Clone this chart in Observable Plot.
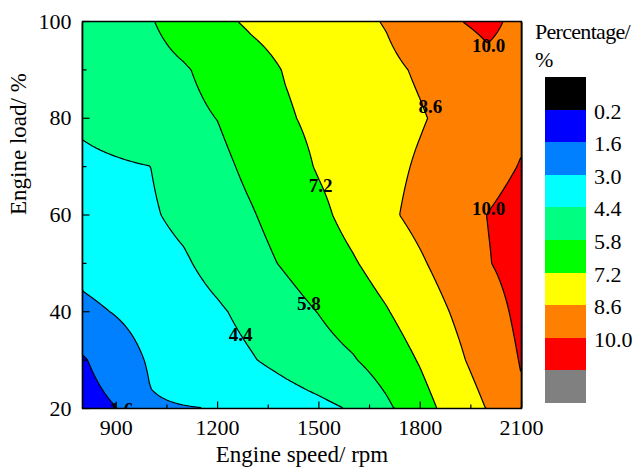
<!DOCTYPE html>
<html>
<head>
<meta charset="utf-8">
<script src="https://cdn.jsdelivr.net/npm/d3@7"></script>
<script src="https://cdn.jsdelivr.net/npm/@observablehq/plot@0.6"></script>
<style>
  html, body { margin: 0; padding: 0; background: white; overflow: hidden; }
  #wrap { position: relative; width: 634px; height: 472px; font-family: "Liberation Serif", "Times New Roman", serif; }
  #legend { position: absolute; left: 0; top: 0; width: 634px; height: 472px; pointer-events: none; }
  .lg-title { position: absolute; font-size: 22px; line-height: 22px; color: #000; white-space: nowrap; letter-spacing: -0.7px; }
  .lg-box { position: absolute; left: 545px; width: 41px; }
  .lg-lab { position: absolute; left: 594px; font-size: 22px; line-height: 22px; color: #000; }
</style>
</head>
<body>
<div id="wrap"><div id="legend"></div></div>
<script>
// Engine speed (rpm) grid columns and engine load (%) grid rows
const speeds = [800, 900, 1000, 1100, 1200, 1300, 1400, 1500, 1600, 1700, 1800, 1900, 2000, 2100];
const loads = [20, 30, 40, 50, 60, 70, 80, 90, 100];
const pct20  = [1.00, 1.58, 2.90, 2.96, 3.01, 3.41, 3.77, 4.10, 4.50, 5.55, 6.69, 7.72, 8.66, 9.85];
const pct30  = [1.46, 2.38, 3.13, 3.53, 3.92, 4.32, 4.77, 5.23, 5.69, 6.45, 7.30, 8.29, 9.20, 10.08];
const pct40  = [2.70, 3.07, 3.46, 3.86, 4.25, 4.74, 5.29, 5.84, 6.48, 7.12, 7.91, 8.71, 9.50, 10.29];
const pct50  = [3.40, 3.68, 3.97, 4.26, 4.81, 5.37, 5.93, 6.51, 7.08, 7.75, 8.45, 9.19, 9.94, 10.45];
const pct60  = [3.71, 3.99, 4.27, 4.67, 5.19, 5.71, 6.30, 6.92, 7.61, 8.37, 8.96, 9.48, 10.02, 10.40];
const pct70  = [4.15, 4.27, 4.39, 4.92, 5.48, 6.08, 6.70, 7.30, 7.78, 8.27, 8.74, 9.18, 9.62, 10.06];
const pct80  = [4.60, 4.90, 5.21, 5.51, 5.82, 6.44, 7.06, 7.47, 7.81, 8.16, 8.51, 8.92, 9.36, 9.80];
const pct90  = [4.85, 5.13, 5.41, 5.70, 6.16, 6.73, 7.26, 7.63, 7.99, 8.35, 8.74, 9.19, 9.70, 9.60];
const pct100 = [4.90, 5.30, 5.72, 6.31, 6.93, 7.38, 7.69, 8.01, 8.32, 8.67, 9.28, 9.92, 10.25, 9.70];
const rows = [pct20, pct30, pct40, pct50, pct60, pct70, pct80, pct90, pct100];

// Contour levels and legend
const levels = [0.2, 1.6, 3.0, 4.4, 5.8, 7.2, 8.6, 10.0];
const levelColors = ["#000000", "#0000ff", "#0080ff", "#00ffff", "#00ff80", "#00ff00", "#ffff00", "#ff8000", "#ff0000"];
const legendColors = [...levelColors, "#808080"];
const legendLabels = ["0.2", "1.6", "3.0", "4.4", "5.8", "7.2", "8.6", "10.0"];

// Contour labels
const labelText = ["1.6", "4.4", "5.8", "7.2", "8.6", "10.0", "10.0"];
const labelSpeed = [915, 1268, 1470, 1505, 1830, 2003, 2003];
const labelLoad = [19.8, 35.3, 41.7, 66.0, 82.4, 95.0, 61.3];

// Axis ticks
const xMajor = [900, 1200, 1500, 1800, 2100];
const xMinor = [1050, 1350, 1650, 1950];
const yMajor = [20, 40, 60, 80, 100];
const yMinor = [30, 50, 70, 90];

function pctAt(x, y) {
  const i = Math.max(0, Math.min(speeds.length - 2, d3.bisectRight(speeds, x) - 1));
  const j = Math.max(0, Math.min(loads.length - 2, d3.bisectRight(loads, y) - 1));
  const tx = (x - speeds[i]) / (speeds[i + 1] - speeds[i]);
  const ty = (y - loads[j]) / (loads[j + 1] - loads[j]);
  const a = rows[j][i], b = rows[j][i + 1], c = rows[j + 1][i], d = rows[j + 1][i + 1];
  return (a * (1 - tx) + b * tx) * (1 - ty) + (c * (1 - tx) + d * tx) * ty;
}

const labels = labelText.map((t, k) => ({t, x: labelSpeed[k], y: labelLoad[k]}));
const font = '"Liberation Serif", "Times New Roman", serif';

const W = 634, H = 472, mL = 82, mR = 113, mT = 21, mB = 64;
const pxPerRpm = (W - mL - mR) / (2100 - 800);
const pxPerLoad = (H - mT - mB) / (100 - 20);
const tickOpts = {stroke: "black", strokeWidth: 1.2};

const chart = Plot.plot({
  width: W,
  height: H,
  marginLeft: mL,
  marginRight: mR,
  marginTop: mT,
  marginBottom: mB,
  style: {fontFamily: font, fontSize: "22px", background: "white", color: "black"},
  x: {domain: [800, 2100]},
  y: {domain: [20, 100]},
  color: {type: "threshold", domain: levels, range: levelColors},
  marks: [
    Plot.contour({
      x1: 800, x2: 2100, y1: 20, y2: 100,
      fill: (x, y) => pctAt(x, y),
      thresholds: levels,
      stroke: "black",
      strokeWidth: 1.2
    }),
    Plot.text(labels, {x: "x", y: "y", text: "t", fontWeight: "bold", fontSize: 19, fontFamily: font, fill: "black", clip: true}),
    Plot.frame({stroke: "black", strokeWidth: 1.5}),
    Plot.link(xMajor, {x1: d => d, x2: d => d, y1: 20, y2: 20 + 7 / pxPerLoad, ...tickOpts}),
    Plot.link(xMinor, {x1: d => d, x2: d => d, y1: 20, y2: 20 + 4 / pxPerLoad, ...tickOpts}),
    Plot.link(yMajor, {y1: d => d, y2: d => d, x1: 800, x2: 800 + 7 / pxPerRpm, ...tickOpts}),
    Plot.link(yMinor, {y1: d => d, y2: d => d, x1: 800, x2: 800 + 4 / pxPerRpm, ...tickOpts}),
    Plot.axisX({ticks: xMajor, tickSize: 0, tickPadding: 11, fontSize: 22, tickFormat: d => String(d), label: null}),
    Plot.axisY({ticks: yMajor, tickSize: 0, tickPadding: 11, fontSize: 22, tickFormat: d => String(d), label: null}),
    Plot.text(["Engine speed/ rpm"], {frameAnchor: "bottom", dy: 53, fontSize: 23, fontFamily: font, fill: "black"}),
    Plot.text(["Engine load/ %"], {frameAnchor: "left", rotate: -90, dx: -64, fontSize: 23, fontFamily: font, fill: "black"})
  ]
});
document.getElementById("wrap").insertBefore(chart, document.getElementById("legend"));

// Legend
const lg = document.getElementById("legend");
const t1 = document.createElement("div");
t1.className = "lg-title"; t1.style.left = "535px"; t1.style.top = "21px"; t1.textContent = "Percentage/";
lg.appendChild(t1);
const t2 = document.createElement("div");
t2.className = "lg-title"; t2.style.left = "535px"; t2.style.top = "49px"; t2.textContent = "%";
lg.appendChild(t2);
const bandH = 32.6, top0 = 77;
legendColors.forEach((c, k) => {
  const b = document.createElement("div");
  b.className = "lg-box";
  b.style.top = (top0 + k * bandH) + "px";
  b.style.height = (bandH + 0.5) + "px";
  b.style.background = c;
  lg.appendChild(b);
});
legendLabels.forEach((s, k) => {
  const l = document.createElement("div");
  l.className = "lg-lab";
  l.style.top = (top0 + (k + 1) * bandH - 9) + "px";
  l.textContent = s;
  lg.appendChild(l);
});
</script>
</body>
</html>
